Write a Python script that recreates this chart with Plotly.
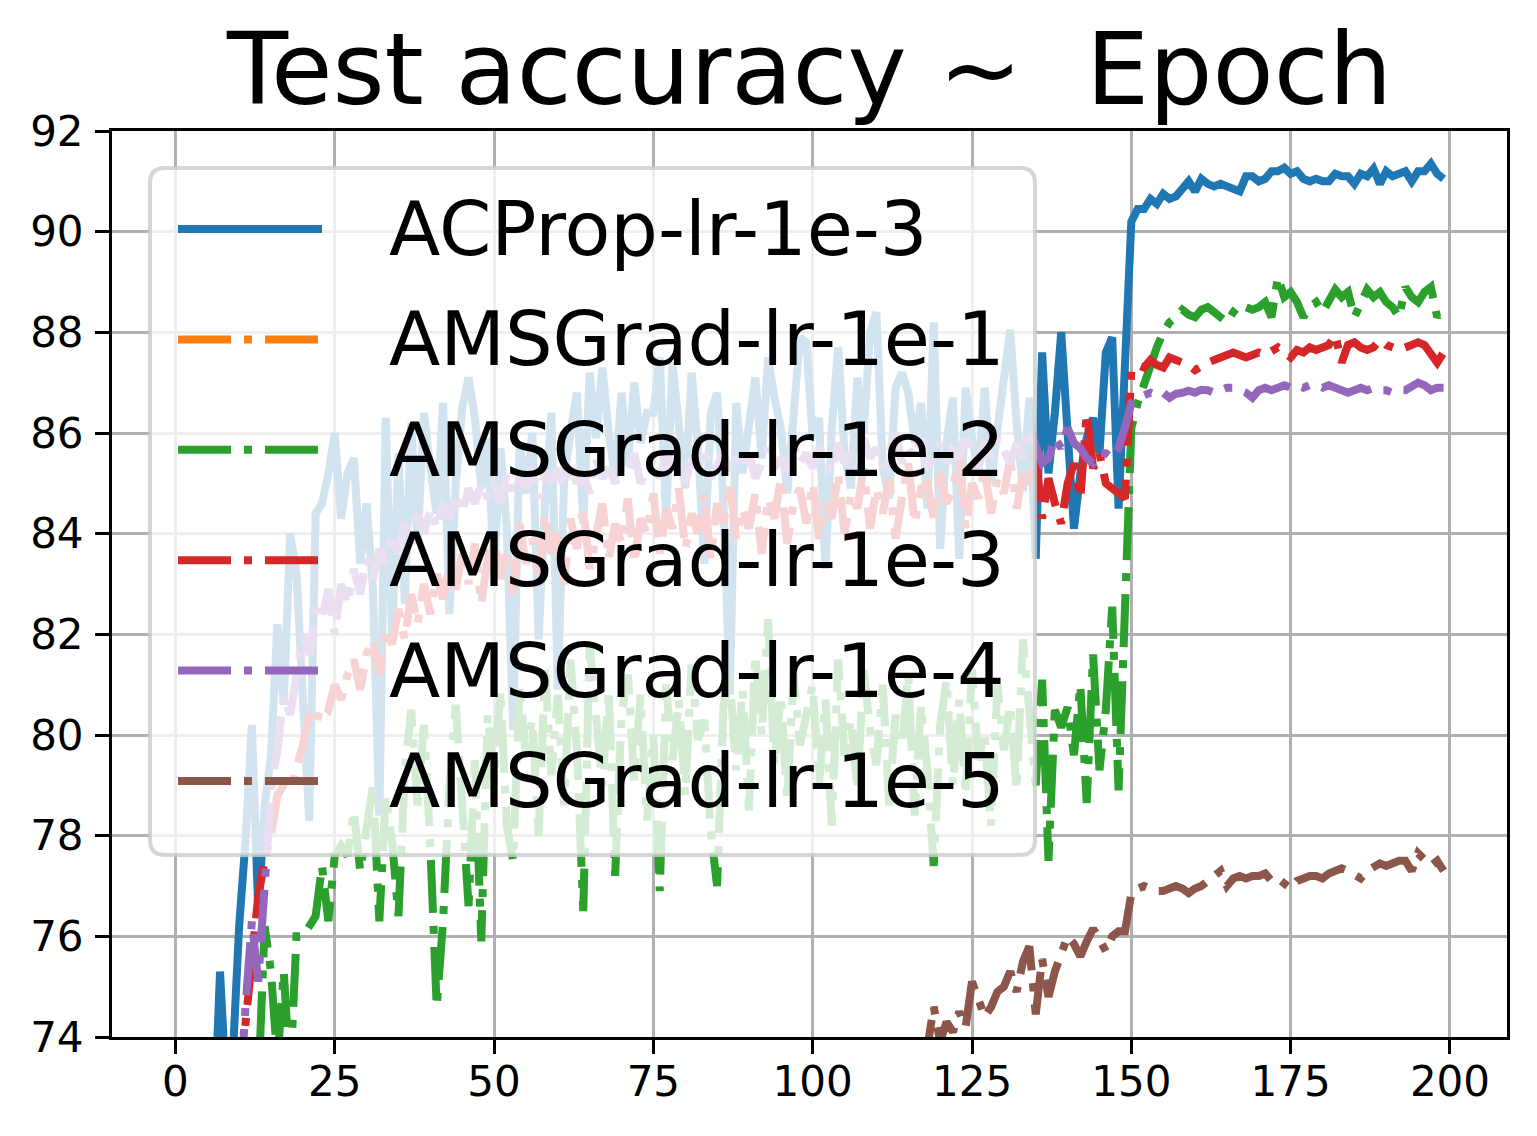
import plotly.graph_objects as go

# test accuracy per epoch (0..199)
epochs = list(range(200))

acprop_1e3 = [
    35.0, 52.0, 60.0, 64.5, 67.8, 70.1, 72.0, 75.3, 72.9, 73.6,
    76.2, 77.9, 80.2, 76.5, 78.6, 79.6, 82.2, 80.6, 84.0, 83.2,
    81.0, 78.3, 84.4, 84.6, 85.2, 86.0, 84.3, 85.2, 85.5, 83.4,
    84.6, 82.9, 78.4, 86.3, 81.9, 85.6, 82.6, 86.2, 83.8, 86.4,
    85.3, 84.4, 86.6, 82.4, 85.0, 86.5, 87.1, 86.3, 84.9, 85.9,
    83.2, 85.7, 84.1, 80.1, 85.8, 84.8, 86.0, 81.9, 84.6, 86.4,
    80.9, 85.1, 86.0, 86.8, 84.2, 87.2, 85.9, 87.3, 86.0, 85.1,
    86.8, 85.4, 87.0, 85.8, 86.4, 86.4, 87.5, 84.3, 87.4, 86.1,
    84.9, 87.2, 85.7, 83.4, 86.4, 86.8, 84.6, 80.8, 86.6, 85.2,
    86.3, 87.1, 85.5, 87.5, 86.7, 86.1, 84.8, 86.4, 87.9, 87.8,
    85.9, 86.3, 83.3, 86.1, 87.7, 85.6, 84.9, 87.1, 86.0, 88.0,
    88.4, 85.3, 84.7, 86.9, 87.2, 86.8, 85.8, 86.6, 84.5, 88.2,
    83.7, 85.8, 86.7, 83.5, 86.9, 85.9, 85.2, 86.9, 85.0, 86.1,
    87.1, 88.05, 86.2, 84.85, 86.7, 83.5, 87.6, 85.2, 86.4, 88.0,
    86.0, 84.1, 85.2, 85.9, 86.3, 85.6, 87.6, 87.9, 84.5, 87.4,
    90.2, 90.45, 90.45, 90.65, 90.55, 90.75, 90.65, 90.7, 90.85, 91.0,
    90.8, 91.05, 90.95, 90.9, 90.95, 90.9, 90.85, 90.8, 91.1, 91.1,
    91.0, 91.05, 91.2, 91.2, 91.27, 91.15, 91.2, 91.05, 91.0, 91.05,
    91.0, 91.0, 91.15, 91.1, 91.1, 90.95, 91.15, 91.1, 91.25, 90.95,
    91.2, 91.1, 91.15, 91.2, 91.0, 91.2, 91.2, 91.35, 91.15, 91.05,
]

# lr 1e-1 never gets off the ground (stays below the visible range)
amsgrad_1e1 = [
    10.0, 10.0, 10.0, 10.0, 10.0, 10.0, 10.0, 10.0, 10.0, 10.0,
    10.0, 10.0, 10.0, 10.0, 10.0, 10.0, 10.0, 10.0, 10.0, 10.0,
    10.0, 10.0, 10.0, 10.0, 10.0, 10.0, 10.0, 10.0, 10.0, 10.0,
    10.0, 10.0, 10.0, 10.0, 10.0, 10.0, 10.0, 10.0, 10.0, 10.0,
    10.0, 10.0, 10.0, 10.0, 10.0, 10.0, 10.0, 10.0, 10.0, 10.0,
    10.0, 10.0, 10.0, 10.0, 10.0, 10.0, 10.0, 10.0, 10.0, 10.0,
    10.0, 10.0, 10.0, 10.0, 10.0, 10.0, 10.0, 10.0, 10.0, 10.0,
    10.0, 10.0, 10.0, 10.0, 10.0, 10.0, 10.0, 10.0, 10.0, 10.0,
    10.0, 10.0, 10.0, 10.0, 10.0, 10.0, 10.0, 10.0, 10.0, 10.0,
    10.0, 10.0, 10.0, 10.0, 10.0, 10.0, 10.0, 10.0, 10.0, 10.0,
    10.0, 10.0, 10.0, 10.0, 10.0, 10.0, 10.0, 10.0, 10.0, 10.0,
    10.0, 10.0, 10.0, 10.0, 10.0, 10.0, 10.0, 10.0, 10.0, 10.0,
    10.0, 10.0, 10.0, 10.0, 10.0, 10.0, 10.0, 10.0, 10.0, 10.0,
    10.0, 10.0, 10.0, 10.0, 10.0, 10.0, 10.0, 10.0, 10.0, 10.0,
    10.0, 10.0, 10.0, 10.0, 10.0, 10.0, 10.0, 10.0, 10.0, 10.0,
    10.0, 10.0, 10.0, 10.0, 10.0, 10.0, 10.0, 10.0, 10.0, 10.0,
    10.0, 10.0, 10.0, 10.0, 10.0, 10.0, 10.0, 10.0, 10.0, 10.0,
    10.0, 10.0, 10.0, 10.0, 10.0, 10.0, 10.0, 10.0, 10.0, 10.0,
    10.0, 10.0, 10.0, 10.0, 10.0, 10.0, 10.0, 10.0, 10.0, 10.0,
    10.0, 10.0, 10.0, 10.0, 10.0, 10.0, 10.0, 10.0, 10.0, 10.0,
]

amsgrad_1e2 = [
    20.0, 35.0, 45.0, 52.0, 58.0, 62.0, 65.0, 67.5, 69.0, 70.5,
    71.2, 72.5, 71.8, 73.0, 76.2, 75.3, 73.5, 75.3, 73.2, 76.0,
    76.0, 76.2, 76.4, 77.4, 76.3, 77.6, 77.8, 77.6, 78.5, 77.3,
    78.2, 79.0, 76.3, 78.8, 77.9, 76.4, 79.3, 80.5, 78.6, 80.2,
    77.8, 74.6, 76.3, 79.0, 80.6, 78.4, 76.6, 79.5, 75.9, 80.4,
    79.1, 80.9, 78.2, 77.5, 81.0, 79.6, 80.3, 78.0, 81.3, 79.2,
    80.8, 78.6, 81.5, 79.7, 76.5, 81.8, 80.2, 79.0, 80.9, 77.2,
    80.4, 81.2, 79.1, 80.8, 78.3, 80.0, 76.9, 81.0, 79.5, 80.7,
    78.8, 81.4, 79.9, 80.3, 78.1, 77.0, 80.6, 81.1, 79.3, 80.9,
    78.5, 81.6, 80.0, 82.3, 79.4, 80.8, 78.7, 81.2, 79.8, 80.5,
    81.0, 79.0, 80.7, 78.2, 81.5, 79.6, 80.3, 78.9, 81.3, 80.1,
    79.4, 81.0, 78.6, 80.4, 79.8, 81.2, 78.4, 80.6, 79.3, 77.4,
    80.2, 81.1, 79.0, 80.7, 78.8, 81.3, 79.5, 80.0, 78.2, 81.0,
    79.7, 80.6, 78.9, 81.9, 80.3, 79.0, 81.1, 77.5, 80.5, 80.15,
    80.55, 79.6, 81.0, 78.65, 81.6, 79.3, 80.5, 82.55, 78.9, 82.9,
    86.1, 86.6, 87.0, 87.4, 87.7, 88.0, 88.2, 88.3, 88.45, 88.35,
    88.3, 88.45, 88.5, 88.4, 88.3, 88.2, 88.4, 88.55, 88.5, 88.45,
    88.5, 88.6, 88.3, 89.1, 88.7, 88.8, 88.6, 88.3, 88.5, 88.6,
    88.4, 88.6, 88.85, 88.7, 88.8, 88.3, 88.6, 88.85, 88.7, 88.8,
    88.6, 88.5, 88.3, 88.9, 88.7, 88.6, 88.8, 88.9, 88.3, 88.5,
]

amsgrad_1e3 = [
    30.0, 45.0, 55.0, 61.0, 65.0, 68.0, 70.0, 71.5, 72.3, 73.1,
    73.0, 74.3, 75.6, 76.8, 77.5, 78.0, 78.8, 79.0, 78.9, 79.3,
    79.8, 80.4, 80.2, 80.6, 80.5, 81.0, 80.7, 81.2, 81.5, 80.9,
    81.6, 81.9, 81.2, 82.1, 81.8, 82.5, 81.9, 82.8, 82.2, 83.0,
    82.4, 83.2, 82.7, 83.4, 82.9, 83.6, 83.0, 83.8, 82.6, 83.5,
    84.0, 83.1, 83.7, 82.8, 84.2, 83.4, 83.9, 83.2, 84.4, 83.6,
    84.1, 83.0, 84.3, 83.7, 84.5, 83.3, 84.0, 84.6, 83.5, 84.2,
    83.8, 84.7, 83.4, 84.3, 84.0, 84.8, 83.6, 84.5, 84.1, 84.9,
    83.7, 84.4, 84.0, 84.8, 83.5, 84.6, 84.2, 85.0, 83.9, 84.5,
    84.1, 84.8, 83.6, 84.7, 84.3, 85.1, 83.8, 84.6, 84.9, 84.2,
    85.0, 83.9, 84.6, 84.3, 85.2, 84.0, 84.8, 84.5, 85.3, 84.1,
    84.9, 84.4, 85.1, 83.9, 84.7, 85.4, 84.2, 84.9, 85.0, 84.3,
    85.2, 84.6, 84.9, 85.5, 84.1, 85.0, 84.7, 85.3, 84.4, 85.1,
    84.8, 85.5, 84.5, 85.2, 84.9, 85.6, 84.3, 85.1, 84.6, 84.2,
    85.0, 85.4, 84.7, 86.4, 85.3, 85.6, 85.0, 84.9, 84.8, 84.7,
    87.25, 87.35, 87.3, 87.45, 87.35, 87.3, 87.5, 87.45, 87.4, 87.35,
    87.25, 87.35, 87.4, 87.45, 87.5, 87.55, 87.6, 87.55, 87.5, 87.55,
    87.6, 87.55, 87.65, 87.7, 87.6, 87.5, 87.65, 87.6, 87.7, 87.65,
    87.7, 87.75, 87.95, 87.4, 87.75, 87.8, 87.7, 87.65, 87.7, 87.85,
    87.75, 87.7, 87.65, 87.7, 87.75, 87.8, 87.75, 87.6, 87.4, 87.6,
]

amsgrad_1e4 = [
    25.0, 40.0, 50.0, 57.0, 62.0, 66.0, 68.5, 70.5, 71.8, 72.6,
    72.5, 74.6, 76.3, 75.1, 77.2, 78.9, 79.7, 80.8, 80.4, 81.2,
    82.0, 81.6, 82.5, 82.3, 82.9, 82.0, 83.0, 82.6, 83.3, 82.8,
    83.5, 83.1, 83.7, 83.4, 84.0, 83.6, 84.2, 83.8, 84.4, 84.0,
    84.5, 84.1, 84.6, 84.3, 84.8, 84.4, 84.9, 84.6, 85.0, 84.7,
    85.0, 84.6, 85.2, 84.8, 85.1, 84.9, 85.3, 84.7, 85.2, 85.0,
    85.3, 84.9, 85.4, 85.0, 85.2, 84.8, 85.5, 85.1, 85.3, 85.0,
    85.4, 85.2, 85.6, 85.0, 85.3, 85.5, 85.1, 85.6, 85.2, 85.4,
    85.0, 85.5, 85.3, 85.7, 85.1, 85.4, 85.6, 85.2, 85.5, 85.3,
    85.6, 85.1, 85.4, 85.7, 85.3, 85.5, 85.2, 85.8, 85.4, 85.6,
    85.3, 85.7, 85.5, 85.2, 85.8, 85.4, 85.6, 85.3, 85.9, 85.5,
    85.7, 85.3, 85.6, 86.0, 85.4, 85.7, 85.5, 85.9, 85.3, 85.6,
    85.8, 85.4, 85.7, 85.5, 86.0, 85.6, 85.3, 85.8, 85.5, 85.9,
    85.6, 85.4, 85.8, 85.5, 86.1, 85.7, 85.4, 85.5, 85.9, 85.7,
    86.1, 85.8, 85.7, 85.5, 85.4, 85.6, 85.6, 85.5, 85.7, 86.1,
    86.6, 86.7, 86.75, 86.8, 86.75, 86.8, 86.7, 86.78, 86.8, 86.84,
    86.8, 86.86, 86.85, 86.8, 86.85, 86.9, 86.9, 86.85, 86.8, 86.7,
    86.85, 86.9, 86.85, 86.9, 86.95, 86.9, 86.95, 86.9, 86.95, 86.95,
    86.9, 86.95, 86.9, 86.85, 86.8, 86.85, 86.9, 86.85, 86.9, 86.85,
    86.85, 86.8, 86.85, 86.85, 86.95, 87.0, 86.95, 86.85, 86.9, 86.9,
]

amsgrad_1e5 = [
    10.0, 14.0, 18.0, 22.0, 25.5, 28.5, 31.0, 33.5, 35.5, 37.5,
    39.2, 40.8, 42.3, 43.6, 44.9, 46.0, 47.1, 48.2, 49.1, 50.0,
    50.9, 51.7, 52.5, 53.2, 53.9, 54.6, 55.2, 55.8, 56.4, 57.0,
    57.5, 58.0, 58.5, 59.0, 59.4, 59.9, 60.3, 60.7, 61.1, 61.5,
    61.8, 62.2, 62.5, 62.9, 63.2, 63.5, 63.8, 64.1, 64.4, 64.6,
    64.9, 65.2, 65.4, 65.7, 65.9, 66.2, 66.4, 66.6, 66.8, 67.1,
    67.3, 67.5, 67.7, 67.9, 68.1, 68.2, 68.4, 68.6, 68.8, 68.9,
    69.1, 69.3, 69.4, 69.6, 69.7, 69.9, 70.0, 70.2, 70.3, 70.4,
    70.6, 70.7, 70.8, 71.0, 71.1, 71.2, 71.3, 71.4, 71.6, 71.7,
    71.8, 71.9, 72.0, 72.1, 72.2, 72.3, 72.4, 72.5, 72.6, 72.7,
    72.8, 72.9, 72.9, 73.0, 73.1, 73.2, 73.2, 73.3, 73.4, 73.4,
    73.5, 73.2, 73.6, 73.4, 73.7, 73.5, 73.8, 73.6, 73.8, 74.6,
    73.9, 74.3, 74.1, 74.5, 74.2, 75.1, 74.7, 74.4, 74.6, 74.9,
    75.0, 75.3, 74.9, 75.5, 75.8, 74.45, 75.55, 74.8, 75.3, 75.7,
    76.0, 75.85, 75.6, 75.9, 76.15, 75.95, 75.7, 76.0, 76.1, 76.1,
    76.85, 76.95, 77.0, 76.95, 76.9, 76.9, 76.95, 77.0, 76.95, 76.86,
    76.95, 77.0, 77.1, 77.2, 77.3, 77.0, 77.15, 77.2, 77.15, 77.2,
    77.2, 77.25, 77.1, 77.15, 77.05, 76.95, 77.1, 77.15, 77.2, 77.2,
    77.15, 77.25, 77.3, 77.35, 77.3, 77.2, 77.15, 77.3, 77.4, 77.45,
    77.4, 77.45, 77.5, 77.5, 77.3, 77.65, 77.5, 77.4, 77.5, 77.3,
]

series_names = ["ACProp-lr-1e-3", "AMSGrad-lr-1e-1", "AMSGrad-lr-1e-2",
                "AMSGrad-lr-1e-3", "AMSGrad-lr-1e-4", "AMSGrad-lr-1e-5"]
series_values = [acprop_1e3, amsgrad_1e1, amsgrad_1e2,
                 amsgrad_1e3, amsgrad_1e4, amsgrad_1e5]
colors = ["#1f77b4", "#ff7f0e", "#2ca02c", "#d62728", "#9467bd", "#8c564b"]
dashdot = "53px,13px,8px,13px"
dashes = ["solid", dashdot, dashdot, dashdot, dashdot, dashdot]

# the page body adds an 8px margin, so the figure is made 8px smaller
# and everything below is laid out in window pixels
OFF = 8
W, H = 1537, 1136
L, R, T, B = 112, 30, 131, 99
PW, PH = W - L - R, H - T - B


def px(x):  # window pixel -> paper x
    return (x - L) / PW


def py(y):  # window pixel -> paper y
    return (H - B - y) / PH


fig = go.Figure()
for name, vals, col, dash in zip(series_names, series_values, colors, dashes):
    fig.add_trace(go.Scatter(x=epochs, y=vals, mode="lines", name=name,
                             line=dict(color=col, width=8, dash=dash),
                             showlegend=False))

# matplotlib-like legend: translucent rounded box, long line samples
x0, x1, y0, y1, r = 150, 1035, 168, 855, 15
box = (f"M {px(x0 + r)},{py(y0)} L {px(x1 - r)},{py(y0)} "
       f"Q {px(x1)},{py(y0)} {px(x1)},{py(y0 + r)} "
       f"L {px(x1)},{py(y1 - r)} Q {px(x1)},{py(y1)} {px(x1 - r)},{py(y1)} "
       f"L {px(x0 + r)},{py(y1)} Q {px(x0)},{py(y1)} {px(x0)},{py(y1 - r)} "
       f"L {px(x0)},{py(y0 + r)} Q {px(x0)},{py(y0)} {px(x0 + r)},{py(y0)} Z")
shapes = [dict(type="path", path=box, xref="paper", yref="paper", layer="above",
               fillcolor="rgba(255,255,255,0.8)",
               line=dict(color="rgba(204,204,204,0.8)", width=4))]
annotations = []
for i, (name, col, dash) in enumerate(zip(series_names, colors, dashes)):
    ry = 229 + i * 110.4
    shapes.append(dict(type="line", xref="paper", yref="paper", layer="above",
                       x0=px(178), x1=px(322), y0=py(ry), y1=py(ry),
                       line=dict(color=col, width=8, dash=dash)))
    annotations.append(dict(text=name, xref="paper", yref="paper",
                            x=px(387), y=py(ry), xanchor="left", yanchor="middle",
                            showarrow=False, font=dict(size=75, color="black")))

axis_style = dict(showgrid=True, gridcolor="#b0b0b0", gridwidth=3,
                  showline=True, linecolor="black", linewidth=3, mirror=True,
                  ticks="outside", ticklen=14, tickwidth=3, tickcolor="black",
                  tickfont=dict(size=42, color="black"), zeroline=False)

fig.update_xaxes(range=[-9.95, 208.95], tickvals=[0, 25, 50, 75, 100, 125, 150, 175, 200],
                 ticklabelstandoff=-8, **axis_style)
fig.update_yaxes(range=[74, 92], tickvals=[74, 76, 78, 80, 82, 84, 86, 88, 90, 92],
                 ticklabelstandoff=3, **axis_style)

fig.update_layout(
    width=W - OFF, height=H - OFF,
    margin=dict(l=L - OFF, r=R, t=T - OFF, b=B),
    plot_bgcolor="white", paper_bgcolor="white",
    font=dict(family="DejaVu Sans", color="black"),
    title=dict(text="Test accuracy ~ \u00a0Epoch", font=dict(size=100, color="black"),
               x=0.5, xref="paper", xanchor="center",
               y=1 - (69 - OFF) / (H - OFF), yref="container", yanchor="middle"),
    shapes=shapes,
    annotations=annotations,
)

fig.write_html("out.html")
